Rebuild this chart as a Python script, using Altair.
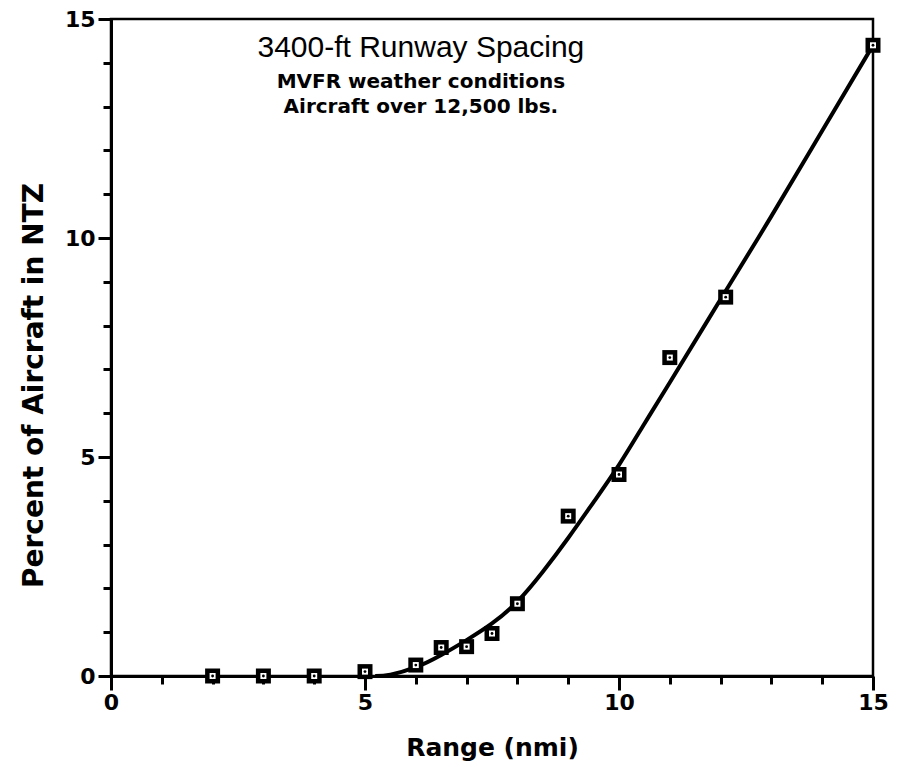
import altair as alt
import pandas as pd

# Measured share of aircraft in the NTZ by range
range_nmi = [2, 3, 4, 5, 6, 6.5, 7, 7.5, 8, 9, 10, 11, 12.1, 15]
pct_ntz = [0.0, 0.0, 0.0, 0.1, 0.25, 0.65, 0.67, 0.97, 1.65, 3.65, 4.6, 7.27, 8.65, 14.4]

# Smoothed fit curve through the measurements
fit_x = [5.2, 5.5, 6.0, 6.5, 7.0, 7.5, 8.0, 8.5, 9.0, 9.5, 10, 10.5, 11, 12, 13, 14, 15]
fit_y = [0.0, 0.03, 0.2, 0.48, 0.82, 1.2, 1.7, 2.38, 3.15, 3.97, 4.82, 5.76, 6.7, 8.6, 10.5, 12.45, 14.4]

# Annotation block (positions in data units)
heading = ["3400-ft Runway Spacing"]
heading_x = [6.1]
heading_y = [14.13]
sub_lines = ["MVFR weather conditions", "Aircraft over 12,500 lbs."]
sub_x = [6.1, 6.1]
sub_y = [13.42, 12.85]

SANS = "Liberation Sans"
BOLD = "DejaVu Sans"

pts = pd.DataFrame({"range": range_nmi, "pct": pct_ntz})
fit = pd.DataFrame({"range": fit_x, "pct": fit_y})
head_df = pd.DataFrame({"range": heading_x, "pct": heading_y, "label": heading})
sub_df = pd.DataFrame({"range": sub_x, "pct": sub_y, "label": sub_lines})

major = "datum.value % 5 === 0"

x_axis = alt.Axis(
    values=list(range(0, 16)),
    labelExpr=f"{major} ? datum.label : ''",
    tickSize={"condition": {"test": major, "value": 14}, "value": 8},
    tickWidth={"condition": {"test": major, "value": 3}, "value": 3},
    labelPadding=2,
    title="Range (nmi)",
    titleBaseline="alphabetic", titleY=79,
)
y_axis = alt.Axis(
    values=list(range(0, 16)),
    labelExpr=f"{major} ? datum.label : ''",
    tickSize={"condition": {"test": major, "value": 13}, "value": 8},
    tickWidth={"condition": {"test": major, "value": 3}, "value": 3},
    labelPadding=3,
    title="Percent of Aircraft in NTZ",
    titleAngle=-90, titleAlign="center", titleBaseline="alphabetic",
    titleX=-69, titleY=366,
    titleFontSize=28,
)

xs = alt.Scale(domain=[0, 15], nice=False, zero=False)
ys = alt.Scale(domain=[0, 15], nice=False, zero=False)
x_enc = alt.X("range:Q", scale=xs, axis=x_axis)
y_enc = alt.Y("pct:Q", scale=ys, axis=y_axis)

curve = alt.Chart(fit).mark_line(
    color="black", strokeWidth=4, interpolate="natural"
).encode(x=x_enc, y=y_enc)

outer = alt.Chart(pts).mark_point(
    shape="square", filled=True, color="black", size=225, opacity=1
).encode(x=x_enc, y=y_enc)

inner = alt.Chart(pts).mark_point(
    shape="square", filled=True, color="white", size=36, opacity=1
).encode(x=x_enc, y=y_enc)

dot = alt.Chart(pts).mark_point(
    shape="circle", filled=True, color="black", size=8, opacity=1
).encode(x=x_enc, y=y_enc)

head = alt.Chart(head_df).mark_text(
    font=SANS, fontSize=30, fontWeight="normal", color="black",
    align="center", baseline="alphabetic"
).encode(x=x_enc, y=y_enc, text="label:N")

subs = alt.Chart(sub_df).mark_text(
    font=BOLD, fontSize=20, fontWeight="bold", color="black",
    align="center", baseline="alphabetic"
).encode(x=x_enc, y=y_enc, text="label:N")

chart = alt.layer(curve, outer, inner, dot, head, subs).properties(
    width=762,
    height=657,
    autosize=alt.AutoSizeParams(type="none"),
    padding={"left": 111, "top": 19, "right": 24, "bottom": 91},
    background="white",
).configure_view(
    stroke="black", strokeWidth=2.5
).configure_axis(
    grid=False,
    domainColor="black", domainWidth=3,
    tickColor="black", tickWidth=3,
    labelFont=BOLD, labelFontWeight="bold", labelFontSize=22, labelColor="black",
    labelFlush=False,
    titleFont=BOLD, titleFontWeight="bold", titleFontSize=25, titleColor="black",
)

chart.save("out.html", embed_options={"renderer": "svg", "actions": False})
